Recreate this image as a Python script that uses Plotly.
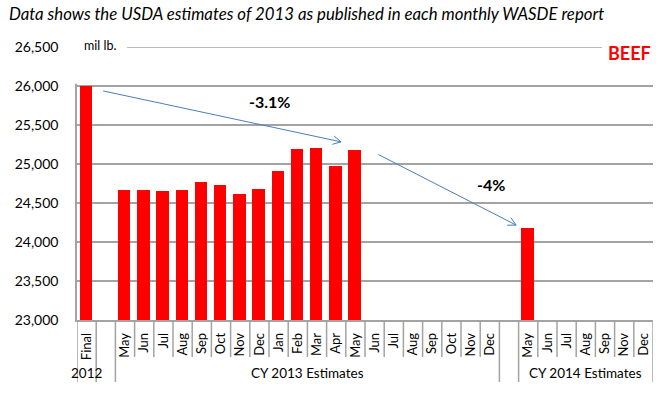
import math
import plotly.graph_objects as go

# ---- data ----
categories = ["Final", "", "May", "Jun", "Jul", "Aug", "Sep", "Oct", "Nov", "Dec",
              "Jan", "Feb", "Mar", "Apr", "May", "Jun", "Jul", "Aug", "Sep", "Oct",
              "Nov", "Dec", "", "May", "Jun", "Jul", "Aug", "Sep", "Nov", "Dec"]
values = [26000, None, 24665, 24665, 24652, 24665, 24770, 24725, 24620, 24682,
          24905, 25188, 25205, 24978, 25185, None, None, None, None, None,
          None, None, None, 24180, None, None, None, None, None, None]
group_labels = ["2012", "", "CY 2013 Estimates", "", "CY 2014 Estimates"]
group_sizes = [1, 1, 20, 1, 7]
y_ticks = [23000, 23500, 24000, 24500, 25000, 25500, 26000, 26500]
# percentage-change arrows: (start index, start value, end index, end value, label)
changes = [(0.86, 25937, 13.25, 25284, "-3.1%"),
           (15.19, 25122, 22.37, 24217, "-4%")]

FONT = "Lato"
GRID = "#a3a3a3"
ARROW = "#4a7ebb"

W, H = 672, 397
ML, MR, MT, MB = 77, 19, 47, 77
PW, PH = W - ML - MR, H - MT - MB
n = len(categories)
ymin, ymax = y_ticks[0], y_ticks[-1]

fig = go.Figure()
fig.add_trace(go.Bar(
    x=list(range(n)), y=values,
    width=0.64, offset=-0.36,
    marker=dict(color="#ff0000", line=dict(width=0)),
    hoverinfo="skip",
))

shapes = []
annotations = []

# category dividers below the axis
short_len = -37 / PH
long_len = -62 / PH
bounds = set()
pos = 0
group_centers = []
for sz in group_sizes:
    bounds.add(pos)
    group_centers.append(pos + (sz - 1) / 2)
    pos += sz
bounds.add(pos)
for i in range(n + 1):
    shapes.append(dict(type="line", xref="x", yref="paper",
                       x0=i - 0.5, x1=i - 0.5, y0=0,
                       y1=long_len if i in bounds else short_len,
                       line=dict(color=GRID, width=1.5), layer="above"))

for lab, c in zip(group_labels, group_centers):
    if lab:
        annotations.append(dict(text=lab, x=c, xref="x", y=-53 / PH, yref="paper",
                                showarrow=False, xanchor="center", yanchor="middle",
                                font=dict(family=FONT, size=13.5, color="#000")))

# top gridline (range edge) drawn explicitly
shapes.append(dict(type="line", xref="paper", yref="y", x0=0, x1=1, y0=ymax, y1=ymax,
                   line=dict(color=GRID, width=1.5), layer="between"))
# white covers interrupting gridlines (text boxes in original)
shapes.append(dict(type="rect", xref="paper", yref="paper",
                   x0=-0.01, x1=(127 - ML) / PW, y0=(ymax - ymin - 470) / (ymax - ymin), y1=1.05,
                   fillcolor="white", line=dict(width=0), layer="above"))
shapes.append(dict(type="rect", xref="paper", yref="paper",
                   x0=(602 - ML) / PW, x1=1.01, y0=0.985, y1=1.015,
                   fillcolor="white", line=dict(width=0), layer="above"))
shapes.append(dict(type="rect", xref="paper", yref="paper",
                   x0=(238 - ML) / PW, x1=(303 - ML) / PW, y0=0.845, y1=0.87,
                   fillcolor="white", line=dict(width=0), layer="between"))

# arrows
pxx = PW / n
pxy = PH / (ymax - ymin)
head = 9
for (xa, ya, xb, yb, lab) in changes:
    shapes.append(dict(type="line", xref="x", yref="y", x0=xa, y0=ya, x1=xb, y1=yb,
                       line=dict(color=ARROW, width=1), layer="above"))
    dx, dy = (xb - xa) * pxx, (yb - ya) * pxy
    L = math.hypot(dx, dy)
    ux, uy = -dx / L, -dy / L
    for ang in (math.radians(28), -math.radians(28)):
        rx = ux * math.cos(ang) - uy * math.sin(ang)
        ry = ux * math.sin(ang) + uy * math.cos(ang)
        shapes.append(dict(type="line", xref="x", yref="y",
                           xsizemode="pixel", ysizemode="pixel",
                           xanchor=xb, yanchor=yb, x0=0, y0=0,
                           x1=rx * head, y1=ry * head,
                           line=dict(color=ARROW, width=1), layer="above"))

annotations.append(dict(text="<b>-3.1%</b>", x=(269.5 - ML) / PW, xref="paper",
                        y=(H - MB - 102) / PH, yref="paper", showarrow=False,
                        xanchor="center", yanchor="middle",
                        font=dict(family=FONT, size=16, color="#000")))
annotations.append(dict(text="<b>-4%</b>", x=(490.5 - ML) / PW, xref="paper",
                        y=(H - MB - 184) / PH, yref="paper", showarrow=False,
                        xanchor="center", yanchor="middle",
                        font=dict(family=FONT, size=16, color="#000")))
annotations.append(dict(text="<b>BEEF</b>", x=(653 - ML) / PW, xref="paper",
                        xanchor="right", yanchor="middle", y=(H - MB - 53) / PH, yref="paper",
                        showarrow=False,
                        font=dict(family=FONT, size=18, color="#ff0000")))
annotations.append(dict(text="mil lb.", x=(82 - ML) / PW, xref="paper",
                        xanchor="left", yanchor="middle", y=(H - MB - 45) / PH, yref="paper",
                        showarrow=False,
                        font=dict(family=FONT, size=12.5, color="#000")))
annotations.append(dict(text="<i>Data shows the USDA estimates of 2013 as published in each monthly WASDE report</i>",
                        x=(7 - ML) / PW, xref="paper", xanchor="left",
                        y=(H - MB - 14) / PH, yref="paper", yanchor="middle",
                        showarrow=False,
                        font=dict(family=FONT, size=16.8, color="#000")))

fig.update_layout(
    width=W, height=H,
    margin=dict(l=ML, r=MR, t=MT, b=MB, pad=0, autoexpand=False),
    paper_bgcolor="white", plot_bgcolor="white",
    showlegend=False,
    bargap=0,
    font=dict(family=FONT, size=13, color="#000"),
    shapes=shapes, annotations=annotations,
    xaxis=dict(range=[-0.5, n - 0.5], tickmode="array", tickvals=list(range(n)),
               ticktext=categories, tickangle=-90, ticks="", showgrid=False,
               showline=True, linecolor=GRID, linewidth=1.5, zeroline=False,
               tickfont=dict(family=FONT, size=13, color="#000"),
               ticklabelstandoff=6, fixedrange=True, automargin=False),
    yaxis=dict(range=[ymin, ymax], tickmode="array", tickvals=y_ticks,
               ticktext=[f"{v:,}" for v in y_ticks], showgrid=True,
               gridcolor=GRID, gridwidth=1.5, showline=True, linecolor=GRID,
               linewidth=1.5, zeroline=False, ticks="",
               tickfont=dict(family=FONT, size=14, color="#000"),
               ticklabelstandoff=14, fixedrange=True, automargin=False),
)

fig.write_html("out.html", config={"displayModeBar": False},
               post_script="document.body.style.margin='0';document.body.style.padding='0';")
